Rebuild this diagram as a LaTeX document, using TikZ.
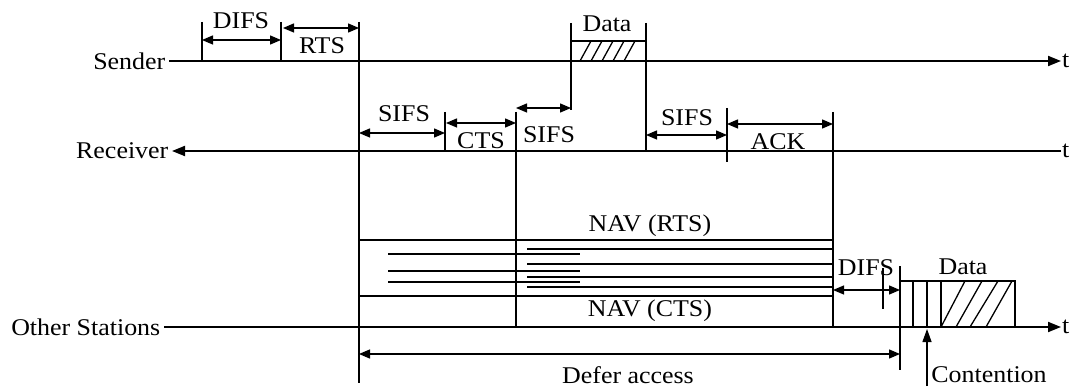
\documentclass[tikz,border=0pt]{standalone}
\usepackage{fontspec}
\setmainfont{Liberation Serif}[FakeStretch=1.08]
\usetikzlibrary{arrows.meta,positioning}
\tikzset{
  timeline/.style={line width=1.9pt,-{Triangle[length=13pt,width=10pt]}},
  tickline/.style={line width=1.3pt},
  spanarrow/.style={line width=1.3pt,{Triangle[length=11pt,width=9pt]}-{Triangle[length=11pt,width=9pt]}},
  navline/.style={line width=1.3pt},
  lbl/.style={inner sep=1pt},
  stn/.style={inner sep=3.5pt},
}

\begin{document}
\begin{tikzpicture}[x=1pt,y=-1pt,font=\fontsize{24}{27}\selectfont]
\useasboundingbox (0,0) rectangle (1070,387);
% --- stations and time axes ---
\node[stn,anchor=east] (snd) at (169,61)  {Sender};
\node[stn,anchor=east] (rcv) at (172,151) {Receiver};
\node[stn,anchor=east] (oth) at (164,327) {Other Stations};
\node[lbl,anchor=west] (tS) at (1061,61)  {t};
\node[lbl,anchor=west] (tR) at (1061,151) {t};
\node[lbl,anchor=west] (tO) at (1061,327) {t};
\draw[timeline] (snd.east) -- (tS.west);
\draw[timeline] (tR.west) -- (rcv.east);
\draw[timeline] (oth.east) -- (tO.west);
% --- sender: DIFS, RTS, Data ---
\draw[tickline] (202,22) -- (202,61);
\draw[tickline] (281,22) -- (281,61);
\draw[tickline] (359,22) -- (359,383);
\draw[spanarrow] (202,40) -- (281,40);
\draw[spanarrow] (283,28) -- (359,28);
\node[lbl] (difs1) at (241,21) {DIFS};
\node[lbl] (rts) at (322,46) {RTS};
\draw[tickline] (571,23) -- (571,110);
\draw[tickline] (646,23) -- (646,151);
\draw[tickline] (571,41) -- (646,41);
\foreach \i in {0,...,4}{\draw[tickline] (580+11*\i,61) -- (591+11*\i,41);}
\node[lbl] (data1) at (607,24) {Data};
% --- receiver: SIFS, CTS, SIFS, SIFS, ACK ---
\draw[tickline] (445,112) -- (445,151);
\draw[tickline] (516,112) -- (516,327);
\draw[tickline] (727,108) -- (727,162);
\draw[tickline] (833,112) -- (833,327);
\draw[spanarrow] (359,133) -- (445,133);
\draw[spanarrow] (446,123) -- (516,123);
\draw[spanarrow] (516,108) -- (571,108);
\draw[spanarrow] (646,135) -- (727,135);
\draw[spanarrow] (727,124) -- (833,124);
\node[lbl] (sifs1) at (404,114) {SIFS};
\node[lbl] (cts) at (481,141) {CTS};
\node[lbl] (sifs2) at (549,135) {SIFS};
\node[lbl] (sifs3) at (687,118) {SIFS};
\node[lbl] (ack) at (778,142) {ACK};
% --- other stations: NAV ---
\node[lbl] (navR) at (650,226) {NAV (RTS)};
\node[lbl] (navC) at (650,311) {NAV (CTS)};
\foreach \y in {240,296}{\draw[navline] (359,\y) -- (833,\y);}
\foreach \y in {249,264,277,287}{\draw[navline] (527,\y) -- (833,\y);}
\foreach \y in {254,271,282}{\draw[navline] (388,\y) -- (580,\y);}
% --- other stations: DIFS, contention, Data ---
\draw[tickline] (883,268) -- (883,309);
\draw[tickline] (900,266) -- (900,370);
\draw[spanarrow] (833,290) -- (900,290);
\node[lbl] (difs2) at (866,268) {DIFS};
\draw[tickline] (900,281) rectangle (1015,327);
\foreach \x in {913,927,941}{\draw[tickline] (\x,281) -- (\x,327);}
\draw[tickline] (941,327) -- (965,281);
\draw[tickline] (956,327) -- (982,281);
\draw[tickline] (970,327) -- (998,281);
\draw[tickline] (986,327) -- (1012,281);
\node[lbl] (data2) at (963,267) {Data};
\draw[tickline,-{Triangle[length=13pt,width=9pt]}] (927,386) -- (927,329);
\node[lbl] (cont) at (989,375) {Contention};
\draw[spanarrow] (359,354) -- (900,354);
\node[lbl] (defer) at (628,375) {Defer access};
\end{tikzpicture}
\end{document}
